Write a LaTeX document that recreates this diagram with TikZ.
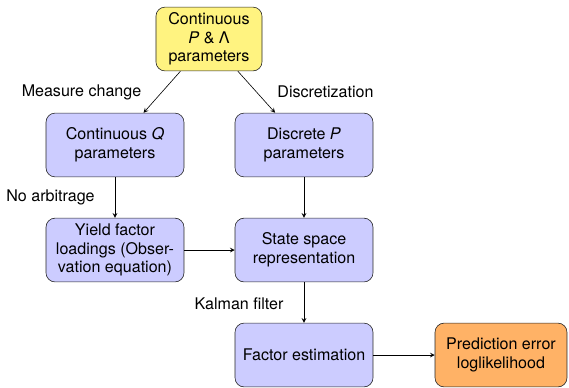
\documentclass[tikz,border=0pt]{standalone}
\usepackage{fontspec}
\setmainfont{TeX Gyre Heros}
\usepackage{xcolor}
\usepackage{tikz}
\usetikzlibrary{arrows}
\definecolor{paramyellow}{RGB}{255,243,128}

\begin{document}
\begin{tikzpicture}[
        media/.style={font={\fontsize{10.6pt}{12.3pt}\selectfont}},
        stage/.style={draw=black!85, fill=blue!20, rounded corners=6pt,
            align=center, minimum width=3.2cm, minimum height=1.48cm,
            inner sep=3pt, media},
        source/.style={stage, fill=paramyellow, minimum width=2.46cm},
        result/.style={stage, fill=orange!60, minimum width=3.06cm},
        flow/.style={black, ->, >=stealth},
        ]
        \useasboundingbox (0, 0) rectangle (13.197, 8.976);

        % Parameters
        \node[source] (cont) at (4.847, 8.071) {Continuous\\ \textit{P} \& Λ\\ parameters};
        \node[stage] (contq) at (2.667, 5.613) {Continuous \textit{Q}\\ parameters};
        \node[stage] (discp) at (7.051, 5.613) {Discrete \textit{P}\\ parameters};

        % Model
        \node[stage] (loadings) at (2.667, 3.177) {Yield factor\\ loadings (Obser-\\ vation equation)};
        \node[stage] (statespace) at (7.051, 3.177) {State space\\ representation};

        % Estimation
        \node[stage] (factors) at (7.051, 0.742) {Factor estimation};
        \node[result] (loglik) at (11.620, 0.742) {Prediction error\\ loglikelihood};

        % Labels
        \node[media] (measure) at (1.890, 6.842) {Measure change};
        \node[media] (discrete) at (7.549, 6.842) {Discretization};
        \node[media] (noarb) at (1.171, 4.407) {No arbitrage};
        \node[media] (kalman) at (5.543, 1.925) {Kalman filter};

        % Arrows
        \draw[flow] (cont) -- (contq);
        \draw[flow] (cont) -- (discp);
        \draw[flow] (contq) -- (loadings);
        \draw[flow] (discp) -- (statespace);
        \draw[flow] (loadings) -- (statespace);
        \draw[flow] (statespace) -- (factors);
        \draw[flow] (factors) -- (loglik);
    \end{tikzpicture}
\end{document}
